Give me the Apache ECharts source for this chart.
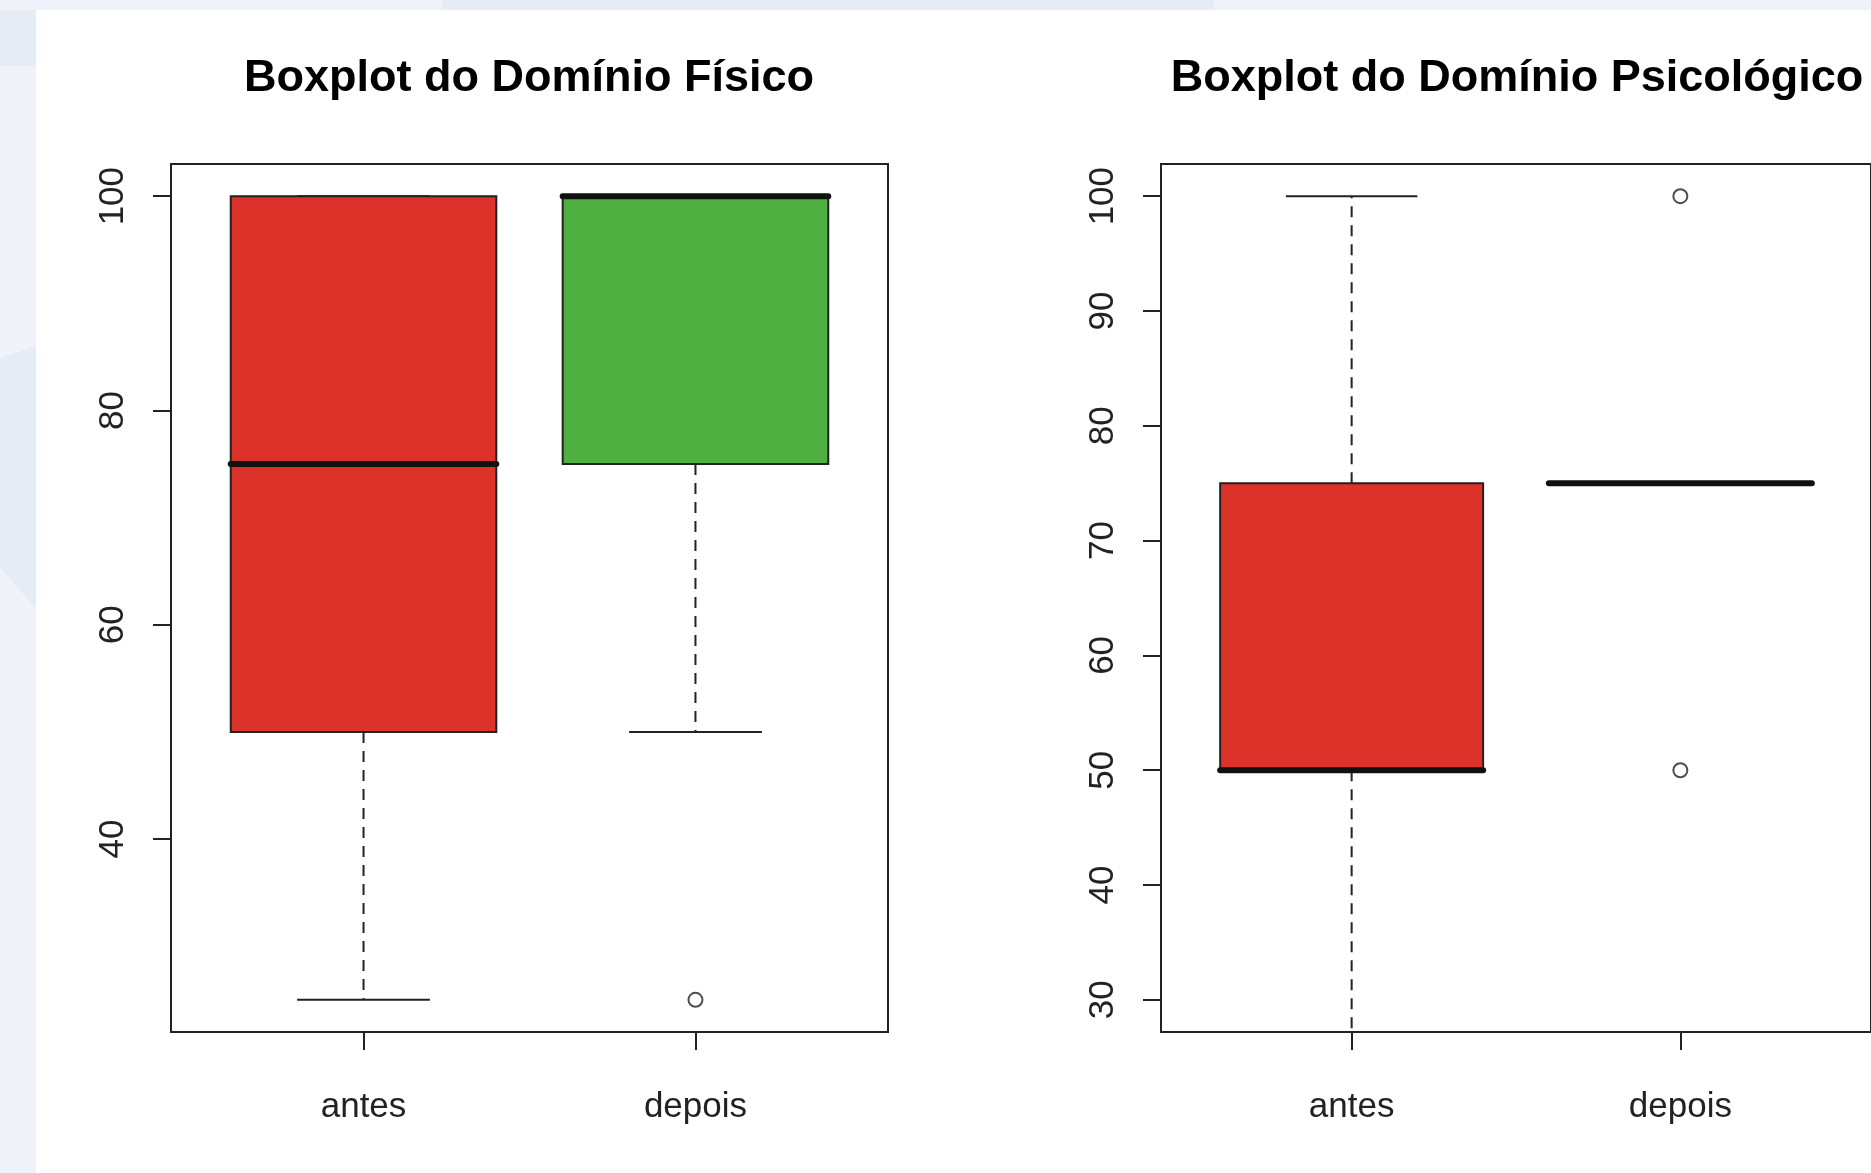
<!DOCTYPE html>
<html>
<head>
<meta charset="utf-8">
<script src="https://cdn.jsdelivr.net/npm/echarts@6/dist/echarts.min.js"></script>
<style>
html,body{margin:0;padding:0;background:#ffffff;}
#c{width:1871px;height:1173px;}
</style>
</head>
<body>
<div id="c"></div>
<script>
// ---------- data ----------
const categories = ['antes', 'depois'];
const titles = ['Boxplot do Domínio Físico', 'Boxplot do Domínio Psicológico'];
// [lower whisker, Q1, median, Q3, upper whisker]
const fisicoStats = [[25, 50, 75, 100, 100], [50, 75, 100, 100, 100]];
const fisicoOutliers = [[], [25]];
const psicoStats = [[25, 50, 50, 75, 100], [75, 75, 75, 75, 75]];
const psicoOutliers = [[], [100, 50]];
const fisicoTicks = [40, 60, 80, 100];
const psicoTicks = [30, 40, 50, 60, 70, 80, 90, 100];

// ---------- style ----------
const fisicoColors = ['#DC3229', '#4FB042'];
const psicoColors = ['#DC3229', '#DC3229'];
const INK = '#222222';
const FONT = '"Liberation Sans", Arial, sans-serif';

const catIdx = categories.map((_, i) => i + 1);
const boxData = stats => stats.map((s, i) => [i + 1].concat(s));
const outData = outs => outs.flatMap((arr, i) => arr.map(v => [i + 1, v]));

function makeRender(colors) {
  return function (params, api) {
    const x = api.value(0);
    const lo = api.value(1), q1 = api.value(2), med = api.value(3), q3 = api.value(4), hi = api.value(5);
    const cs = params.coordSys;
    const yTop = cs.y, yBot = cs.y + cs.height;
    const clampY = y => Math.max(yTop, Math.min(yBot, y));
    const X = v => api.coord([v, q1])[0];
    const Y = v => api.coord([x, v])[1];
    const c = X(x), xl = X(x - 0.4), xr = X(x + 0.4), sl = X(x - 0.2), sr = X(x + 0.2);
    const children = [];
    const dash = { stroke: INK, lineWidth: 2, lineDash: [11, 8] };
    children.push({ type: 'line', shape: { x1: c, y1: Y(q3), x2: c, y2: clampY(Y(hi)) }, style: dash });
    children.push({ type: 'line', shape: { x1: c, y1: Y(q1), x2: c, y2: clampY(Y(lo)) }, style: dash });
    [lo, hi].forEach(v => {
      const y = Y(v);
      if (y >= yTop && y <= yBot) {
        children.push({ type: 'line', shape: { x1: sl, y1: y, x2: sr, y2: y }, style: { stroke: INK, lineWidth: 2 } });
      }
    });
    children.push({ type: 'rect', shape: { x: xl, y: Y(q3), width: xr - xl, height: Y(q1) - Y(q3) },
      style: { fill: colors[params.dataIndex], stroke: INK, lineWidth: 2 } });
    children.push({ type: 'line', shape: { x1: xl, y1: Y(med), x2: xr, y2: Y(med) },
      style: { stroke: '#111111', lineWidth: 6, lineCap: 'round' } });
    return { type: 'group', children };
  };
}

function xAxis(gridIndex) {
  return {
    type: 'value', gridIndex, min: 0.42, max: 2.58,
    axisLine: { show: true, onZero: false, lineStyle: { color: INK, width: 2 } },
    splitLine: { show: false },
    axisTick: { show: true, customValues: catIdx, length: 18, lineStyle: { color: INK, width: 2 } },
    axisLabel: { customValues: catIdx, formatter: v => categories[Math.round(v) - 1] || '',
      fontSize: 35, color: INK, fontFamily: FONT, margin: 58 }
  };
}
function yAxis(gridIndex, min, max, ticks) {
  return {
    type: 'value', gridIndex, min, max,
    axisLine: { show: true, onZero: false, lineStyle: { color: INK, width: 2 } },
    splitLine: { show: false },
    axisTick: { show: true, customValues: ticks, length: 18, lineStyle: { color: INK, width: 2 } },
    axisLabel: { customValues: ticks, rotate: 90, fontSize: 35, color: INK, fontFamily: FONT, margin: 40 }
  };
}

const chart = echarts.init(document.getElementById('c'), null, { renderer: 'canvas' });
chart.setOption({
  animation: false,
  backgroundColor: '#ffffff',
  graphic: [
    { type: 'rect', z: -10, shape: { x: 0, y: 0, width: 36, height: 1173 }, style: { fill: '#F0F4FA' } },
    { type: 'rect', z: -10, shape: { x: 0, y: 0, width: 1871, height: 10 }, style: { fill: '#EFF3F9' } },
    { type: 'rect', z: -9, shape: { x: 442, y: 0, width: 772, height: 10 }, style: { fill: '#E5ECF6' } },
    { type: 'rect', z: -9, shape: { x: 0, y: 10, width: 36, height: 56 }, style: { fill: '#E5ECF6' } },
    { type: 'polygon', z: -9, shape: { points: [[0, 358], [36, 346], [36, 609], [0, 567]] }, style: { fill: '#E5ECF6' } },
    { type: 'text', x: 529, y: 79, style: { text: titles[0], fill: '#000', font: 'bold 45px ' + FONT, textAlign: 'center', textVerticalAlign: 'middle' } },
    { type: 'text', x: 1517, y: 79, style: { text: titles[1], fill: '#000', font: 'bold 45px ' + FONT, textAlign: 'center', textVerticalAlign: 'middle' } }
  ],
  grid: [
    { left: 171, top: 164, width: 717, height: 868, show: true, borderColor: INK, borderWidth: 2, backgroundColor: 'transparent', containLabel: false },
    { left: 1161, top: 164, width: 713, height: 868, show: true, borderColor: INK, borderWidth: 2, backgroundColor: 'transparent', containLabel: false }
  ],
  xAxis: [xAxis(0), xAxis(1)],
  yAxis: [yAxis(0, 22, 103, fisicoTicks), yAxis(1, 27.2, 102.8, psicoTicks)],
  series: [
    { type: 'custom', xAxisIndex: 0, yAxisIndex: 0, data: boxData(fisicoStats), renderItem: makeRender(fisicoColors),
      encode: { x: 0, y: [1, 2, 3, 4, 5] } },
    { type: 'custom', xAxisIndex: 1, yAxisIndex: 1, data: boxData(psicoStats), renderItem: makeRender(psicoColors),
      encode: { x: 0, y: [1, 2, 3, 4, 5] } },
    { type: 'scatter', xAxisIndex: 0, yAxisIndex: 0, data: outData(fisicoOutliers), symbol: 'circle', symbolSize: 14,
      itemStyle: { color: '#ffffff', borderColor: INK, borderWidth: 2 }, z: 5 },
    { type: 'scatter', xAxisIndex: 1, yAxisIndex: 1, data: outData(psicoOutliers), symbol: 'circle', symbolSize: 14,
      itemStyle: { color: '#ffffff', borderColor: INK, borderWidth: 2 }, z: 5 }
  ]
});
</script>
</body>
</html>
